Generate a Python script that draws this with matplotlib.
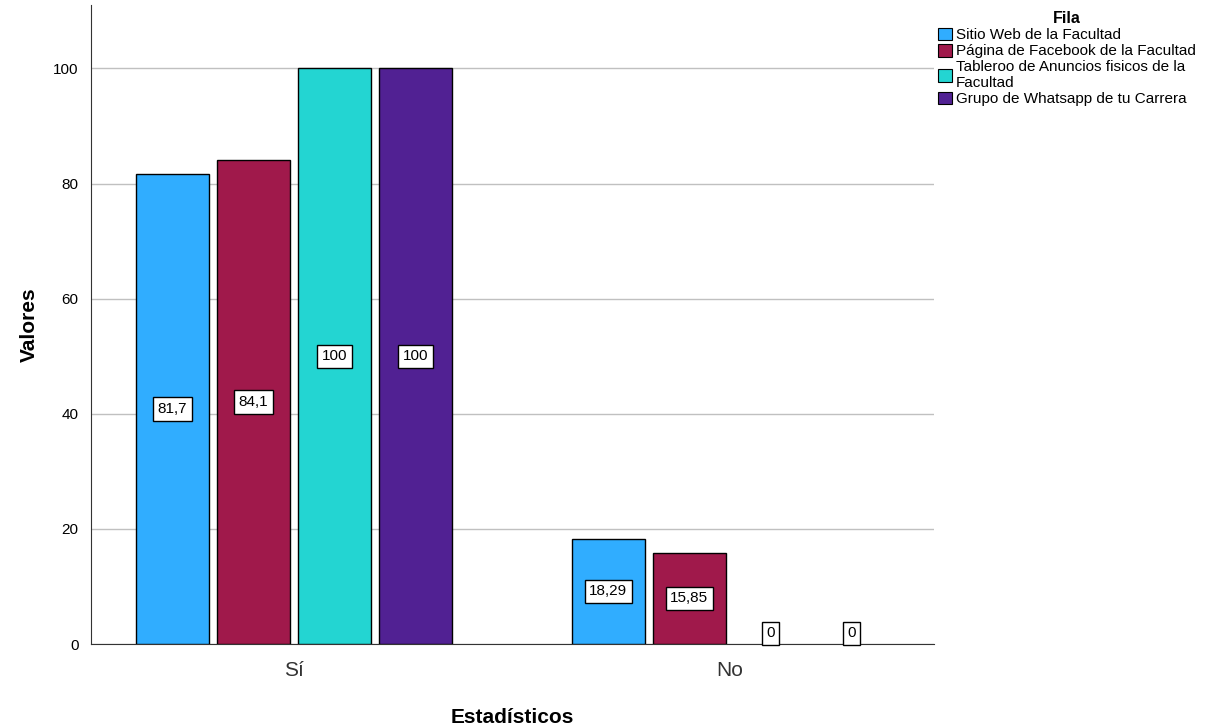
import numpy as np
import matplotlib.pyplot as plt
from matplotlib.patches import Patch

plt.rcParams['font.family'] = ['Liberation Sans', 'DejaVu Sans']

categorias = ['Sí', 'No']
series = ['Sitio Web de la Facultad',
          'Página de Facebook de la Facultad',
          'Tableroo de Anuncios fisicos de la\nFacultad',
          'Grupo de Whatsapp de tu Carrera']
valores = [[81.7, 18.29],
           [84.1, 15.85],
           [100, 0],
           [100, 0]]
etiquetas = [['81,7', '18,29'],
             ['84,1', '15,85'],
             ['100', '0'],
             ['100', '0']]
colores = ['#30adff', '#a0194b', '#23d5d2', '#512193']

fig = plt.figure(figsize=(12.05, 7.27), dpi=100)
ax = fig.add_axes([0.0755, 0.114, 0.6995, 0.879])

x = np.arange(len(categorias))
ancho = 0.167
paso = 0.186
for i, (vals, col) in enumerate(zip(valores, colores)):
    pos = x + (i - 1.5) * paso
    lws = [1 if v > 0 else 0 for v in vals]
    ax.bar(pos, vals, width=ancho, color=col, edgecolor='black', linewidth=lws, zorder=3)
    for xp, v, txt in zip(pos, vals, etiquetas[i]):
        if v > 0:
            ax.text(xp, v / 2, txt, ha='center', va='center', fontsize=11, zorder=4,
                    bbox=dict(boxstyle='square,pad=0.3', fc='white', ec='black', lw=1))
        else:
            ax.text(xp, 0.7, txt, ha='center', va='bottom', fontsize=11, zorder=4,
                    bbox=dict(boxstyle='square,pad=0.3', fc='white', ec='black', lw=1))

ax.set_xlim(-0.466, 0.468 + 1)
ax.set_ylim(0, 111)
ax.set_yticks([0, 20, 40, 60, 80, 100])
ax.set_xticks(x)
ax.set_xticklabels(categorias, fontsize=15, color='#333333')
ax.tick_params(axis='y', length=0, labelsize=11, pad=9)
ax.tick_params(axis='x', length=0, pad=12)
ax.yaxis.grid(True, color='#c0c0c0', linewidth=1, zorder=0)
for s in ['top', 'right']:
    ax.spines[s].set_visible(False)
ax.spines['left'].set_color('#333333')
ax.spines['bottom'].set_color('#333333')

ax.set_ylabel('Valores', fontsize=15, fontweight='bold', labelpad=10)
ax.set_xlabel('Estadísticos', fontsize=15, fontweight='bold', labelpad=20)

handles = [Patch(facecolor=c, edgecolor='black', linewidth=0.8) for c in colores]
leg = ax.legend(handles, series, title='Fila', loc='upper left',
                bbox_to_anchor=(0.998, 1.0), frameon=False, fontsize=11,
                handlelength=0.9, handleheight=0.9, handletextpad=0.25,
                labelspacing=0.1, borderaxespad=0.0,
                title_fontproperties={'weight': 'bold', 'size': 11.5})

fig.savefig('out.png', dpi=100)
